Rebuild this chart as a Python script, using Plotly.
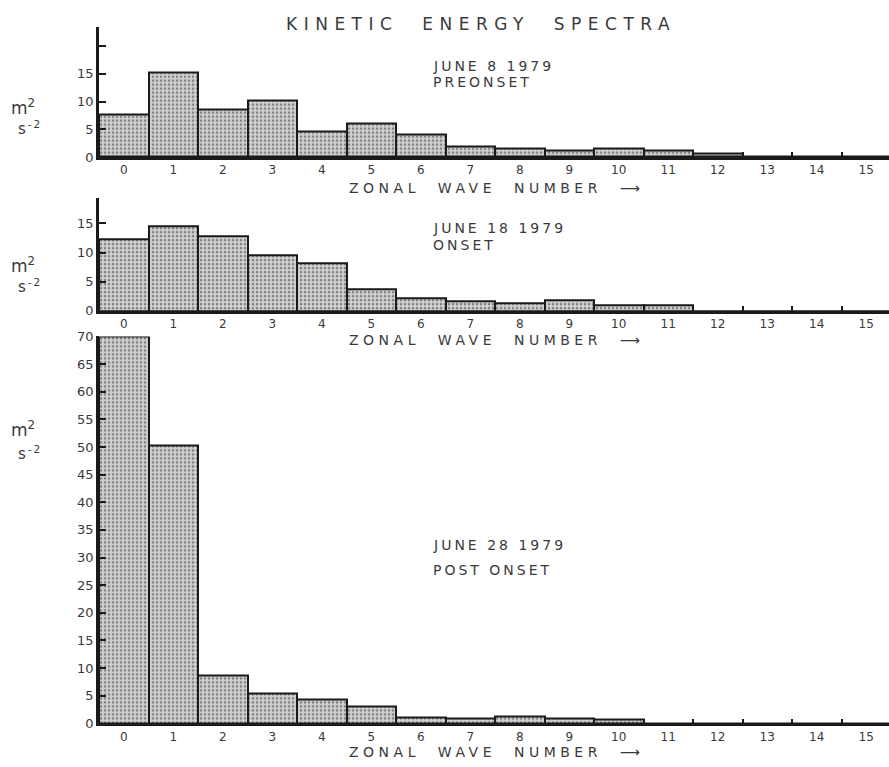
import plotly.graph_objects as go

# ---- data -------------------------------------------------------------
wave_numbers = list(range(16))
wave_labels = [str(k) for k in wave_numbers]

ke_preonset = [7.7, 15.2, 8.6, 10.1, 4.6, 6.0, 4.0, 1.8, 1.5, 1.1, 1.5, 1.1, 0.7, 0, 0, 0]
ke_onset = [12.2, 14.5, 12.8, 9.6, 8.2, 3.7, 2.2, 1.6, 1.4, 1.9, 0.95, 0.9, 0, 0, 0, 0]
ke_postonset = [70, 50.2, 8.6, 5.5, 4.4, 3.0, 1.1, 0.9, 1.3, 0.9, 0.7, 0, 0, 0, 0, 0]

panel_dates = ["JUNE 8 1979", "JUNE 18 1979", "JUNE 28 1979"]
panel_phases = ["PREONSET", "ONSET", "POST ONSET"]

top_ticks = [0, 5, 10, 15, 20]
top_ticklabels = ["0", "5", "10", "15", ""]
mid_ticks = [0, 5, 10, 15]
bottom_ticks = list(range(0, 75, 5))

# ---- geometry helpers (pixel -> paper) ---------------------------------
W, H = 889, 767
def px(x):
    return x / W
def py(y):
    return 1 - y / H

FONT = "DejaVu Sans"
INK = "#1a1a1a"
TXT = "#3a3a3a"

def spaced(text, sp):
    return f'<span style="letter-spacing:{sp}px">{text}</span>'

fig = go.Figure()

bar_style = dict(
    color="#cfcfcf",
    line=dict(color=INK, width=2),
    pattern=dict(shape=".", fgcolor="#2e2e2e", bgcolor="#d0d0d0", size=4, solidity=0.3),
)

for i, vals in enumerate([ke_preonset, ke_onset, ke_postonset], start=1):
    fig.add_trace(go.Bar(
        x=wave_numbers, y=vals, width=1,
        xaxis="x" if i == 1 else f"x{i}",
        yaxis="y" if i == 1 else f"y{i}",
        marker=bar_style, showlegend=False, hoverinfo="x+y",
    ))

x_domain = [px(99), 1.0]
x_range = [-0.5, -0.5 + (W - 99) / 49.5]

def xaxis_cfg(anchor):
    return dict(
        domain=x_domain, range=x_range, anchor=anchor,
        showline=True, linecolor=INK, linewidth=2.5,
        tickmode="array", tickvals=wave_numbers, ticktext=wave_labels,
        ticks="", showgrid=False, zeroline=False,
        tickfont=dict(family=FONT, size=12, color=TXT),
        minor=dict(tick0=0.5, dtick=1, ticks="inside", ticklen=5,
                   tickwidth=1.5, tickcolor=INK, showgrid=False),
        fixedrange=True,
    )

def yaxis_cfg(anchor, dom, rng, tv, tt):
    return dict(
        domain=dom, range=rng, anchor=anchor,
        showline=True, linecolor=INK, linewidth=2.5,
        tickmode="array", tickvals=tv, ticktext=tt,
        ticks="inside", ticklen=7, tickwidth=1.5, tickcolor=INK,
        showgrid=False, zeroline=False,
        tickfont=dict(family=FONT, size=13, color=TXT),
        fixedrange=True,
    )

fig.update_layout(
    xaxis=xaxis_cfg("y"),
    xaxis2=xaxis_cfg("y2"),
    xaxis3=xaxis_cfg("y3"),
    yaxis=yaxis_cfg("x", [py(153), py(20)], [0, 23.5], top_ticks, top_ticklabels),
    yaxis2=yaxis_cfg("x2", [py(310), py(195)], [0, 19.3], mid_ticks, [str(v) for v in mid_ticks]),
    yaxis3=yaxis_cfg("x3", [py(730.7), py(336)], [0, 70], bottom_ticks, [str(v) for v in bottom_ticks]),
    bargap=0,
    width=W, height=H, autosize=False,
    margin=dict(l=0, r=0, t=0, b=0),
    paper_bgcolor="white", plot_bgcolor="white",
)

ann = []
# main title
ann.append(dict(x=px(481), y=py(17), text=spaced("KINETIC  ENERGY  SPECTRA", 6.5),
                font=dict(family=FONT, size=17, color=TXT)))
# panel captions
date_y = [(60, 76), (225, 243), (549, 574)]
for (yd, yp), d, p in zip(date_y, panel_dates, panel_phases):
    ann.append(dict(x=px(431), y=py(yd), xanchor="left", text=spaced(d, 3),
                    font=dict(family=FONT, size=14, color=TXT)))
    ann.append(dict(x=px(431), y=py(yp), xanchor="left", text=spaced(p, 3),
                    font=dict(family=FONT, size=14, color=TXT)))
# x-axis titles
for yt in (185, 340, 760):
    ann.append(dict(x=px(347), y=py(yt), xanchor="left",
                    text=spaced("ZONAL  WAVE  NUMBER  ⟶", 4.5),
                    font=dict(family=FONT, size=14, color=TXT)))
# y-axis unit labels
for ym, ys in ((102, 123), (263, 285), (430, 455)):
    ann.append(dict(x=px(9), y=py(ym), xanchor="left", text="m<sup>2</sup>",
                    font=dict(family=FONT, size=17, color=TXT)))
    ann.append(dict(x=px(16), y=py(ys), xanchor="left", text=spaced("s<sup>-2</sup>", 2),
                    font=dict(family=FONT, size=15, color=TXT)))

for a in ann:
    a.update(xref="paper", yref="paper", showarrow=False, yanchor="middle")
fig.update_layout(annotations=ann)

fig.write_html("out.html")
